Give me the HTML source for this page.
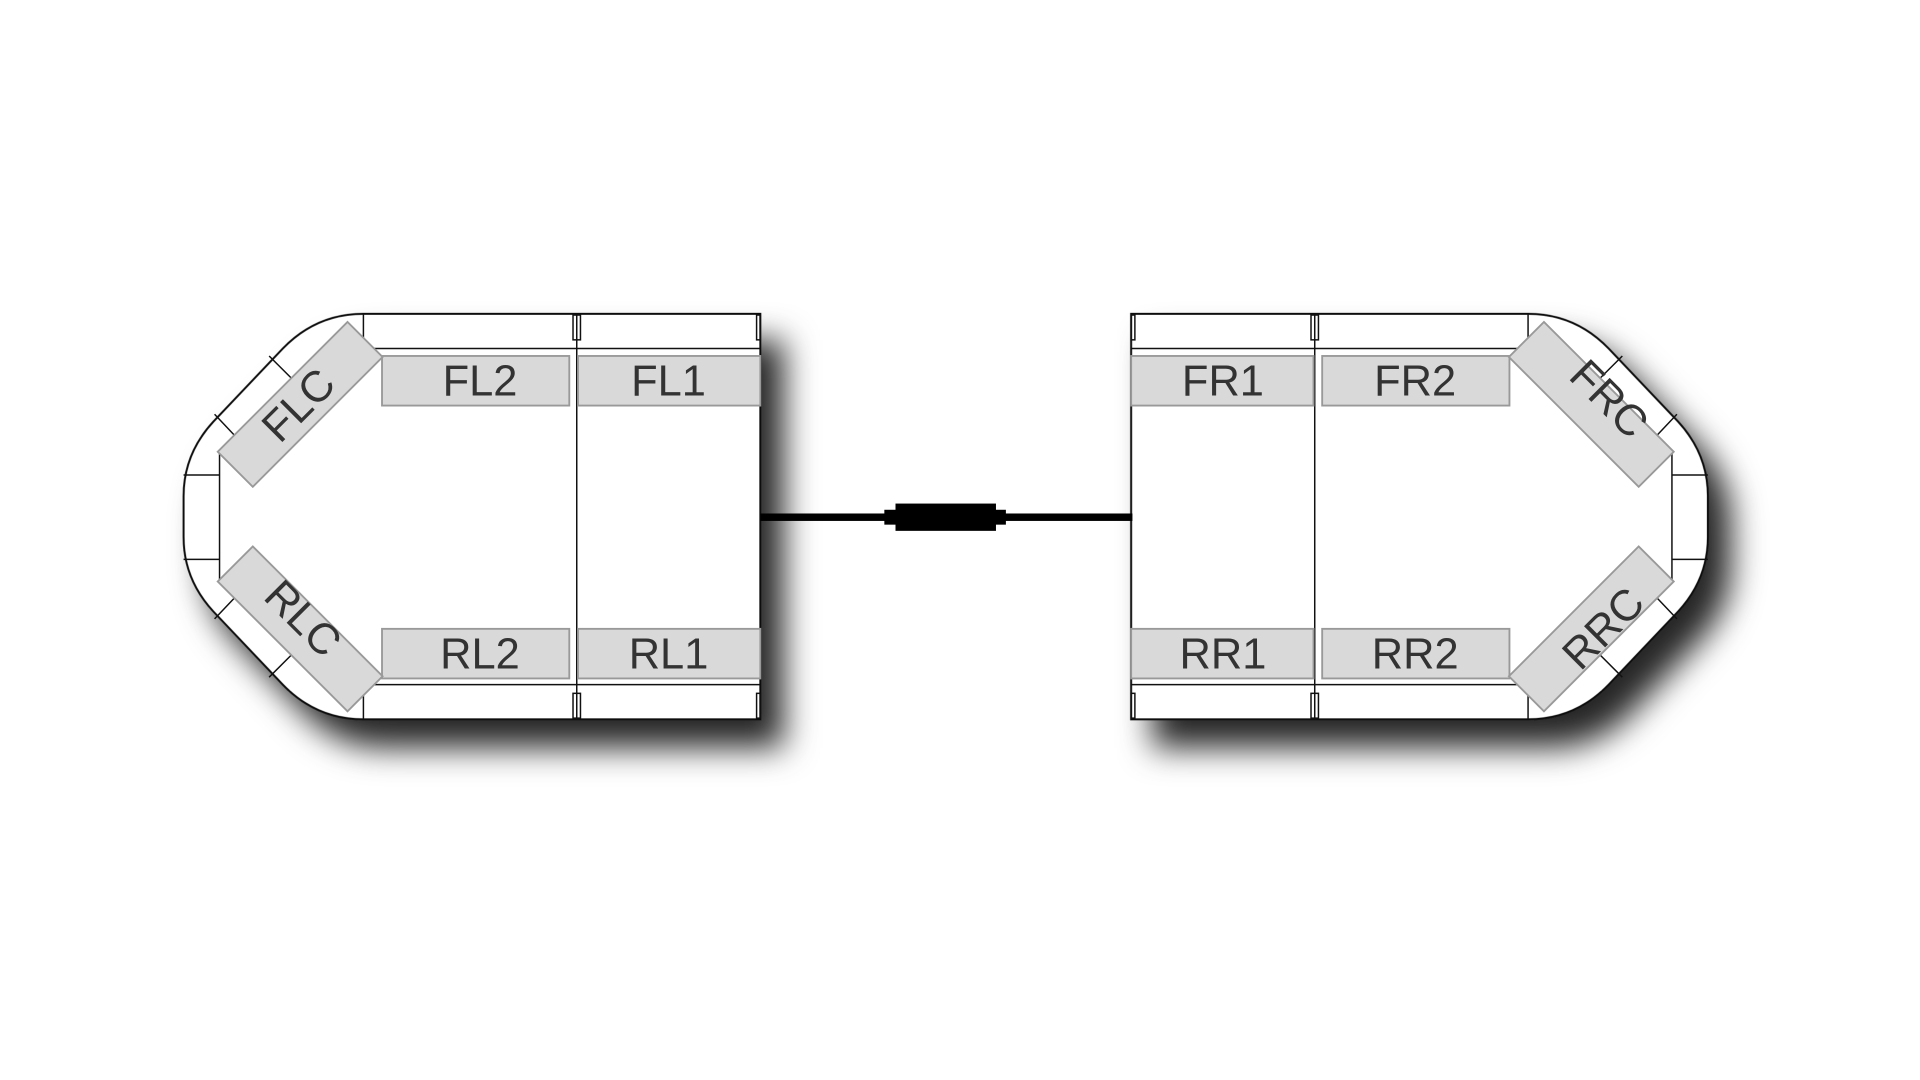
<!DOCTYPE html>
<html><head><meta charset="utf-8"><style>html,body{margin:0;padding:0;background:#fff;}svg{display:block}</style></head>
<body>
<svg width="1920" height="1080" viewBox="0 0 1548 870.75" preserveAspectRatio="none" xmlns="http://www.w3.org/2000/svg">
<defs>
<filter id="sh" x="-20%" y="-30%" width="150%" height="180%">
<feDropShadow dx="18" dy="22" stdDeviation="13" flood-color="#000" flood-opacity="0.85"/>
</filter>
<path id="outer" d="M613,253 L293,253 Q255,253 228,281 L172,340 Q148,366 148,400 L148,433 Q148,467 172,493 L228,552 Q255,580 293,580 L613,580 Z" fill="#fff" stroke="#111" stroke-width="1.6"/>
<g id="mod">
<g stroke="#111" stroke-width="1.2" fill="none">
<line x1="293" y1="253" x2="293" y2="281"/><line x1="293" y1="552" x2="293" y2="580"/>
<line x1="300" y1="281" x2="613" y2="281"/><line x1="300" y1="552" x2="613" y2="552"/>
<line x1="465" y1="253" x2="465" y2="580"/>
<rect x="462" y="254" width="6" height="20"/><rect x="462" y="559" width="6" height="20"/>
<rect x="610" y="254" width="3" height="20"/><rect x="610" y="559" width="3" height="20"/>
<path d="M177,365 L177,468"/>
<line x1="148" y1="383" x2="177" y2="383"/><line x1="148" y1="451" x2="177" y2="451"/>
<line x1="217" y1="287" x2="236" y2="306"/><line x1="173" y1="334" x2="191" y2="353"/>
<line x1="217" y1="546" x2="236" y2="527"/><line x1="173" y1="499" x2="191" y2="480"/>
</g>
<g fill="#d9d9d9" stroke="#999" stroke-width="1.5">
<rect x="308" y="287" width="151" height="40"/><rect x="466" y="287" width="147" height="40"/>
<rect x="308" y="507" width="151" height="40"/><rect x="466" y="507" width="147" height="40"/>
<rect x="-74" y="-20" width="148" height="40" transform="translate(242,326) rotate(-45)"/>
<rect x="-74" y="-20" width="148" height="40" transform="translate(242,507) rotate(45)"/>
</g>
</g>
</defs>
<g filter="url(#sh)">
<use href="#outer"/>
<use href="#outer" transform="translate(1525,0) scale(-1,1)"/>
</g>
<use href="#mod"/>
<use href="#mod" transform="translate(1525,0) scale(-1,1)"/>
<rect x="613" y="414" width="300" height="6" fill="#000"/>
<rect x="713" y="411" width="98" height="12" fill="#000"/>
<rect x="722" y="406" width="81" height="22" fill="#000"/>
<g font-family="Liberation Sans, sans-serif" font-size="35" fill="#333" text-anchor="middle">
<text x="387" y="319">FL2</text><text x="539" y="319">FL1</text>
<text x="387" y="539">RL2</text><text x="539" y="539">RL1</text>
<text x="986" y="319">FR1</text><text x="1141" y="319">FR2</text>
<text x="986" y="539">RR1</text><text x="1141" y="539">RR2</text>
<text transform="translate(249,335) rotate(-45)">FLC</text>
<text transform="translate(236,507) rotate(45)">RLC</text>
<text transform="translate(1289,330) rotate(45)">FRC</text>
<text transform="translate(1301,515) rotate(-45)">RRC</text>
</g>
</svg>
</body></html>
